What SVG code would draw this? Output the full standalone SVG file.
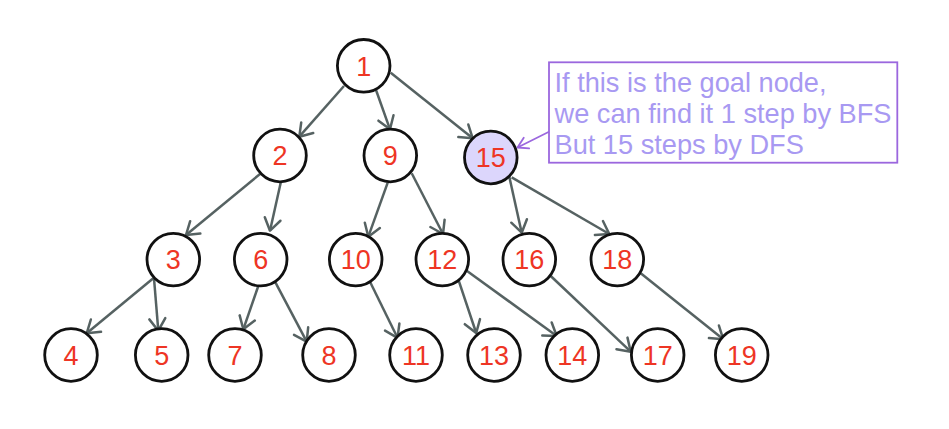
<svg xmlns="http://www.w3.org/2000/svg" width="949" height="429" viewBox="0 0 949 429">
<style>
.node circle{fill:#ffffff;stroke:#111111;stroke-width:2.8}
.node text{font-family:"Liberation Sans",Arial,sans-serif;font-size:27px;fill:#ee3524;text-anchor:middle}
#n15 circle{fill:#dcd6fc}
.edges line{stroke:#566262;stroke-width:2.5;marker-end:url(#arr)}
.note rect{fill:#ffffff;stroke:#9b67de;stroke-width:1.8}
.note text{font-family:"Liberation Sans",Arial,sans-serif;font-size:27.2px;fill:#a899f2}
</style>
<defs>
<marker id="arr" markerUnits="userSpaceOnUse" markerWidth="30" markerHeight="30" refX="0" refY="0" viewBox="-15 -15 30 30" orient="auto" overflow="visible">
<path d="M-12,-8 L0,0 L-12,8" fill="none" stroke="#566262" stroke-width="2.5" stroke-linecap="round" stroke-linejoin="round"/>
</marker>
<marker id="parr" markerUnits="userSpaceOnUse" markerWidth="24" markerHeight="24" refX="0" refY="0" viewBox="-12 -12 24 24" orient="auto" overflow="visible">
<path d="M-10,-6 L0,0 L-10,6" fill="none" stroke="#9b67de" stroke-width="1.8" stroke-linecap="round" stroke-linejoin="round"/>
</marker>
</defs>
<rect width="949" height="429" fill="#ffffff"/>
<g class="edges" id="connectors">
<line x1="344" y1="86" x2="299.3" y2="136.7"/>
<line x1="376" y1="90" x2="390" y2="129.3"/>
<line x1="390.7" y1="72.7" x2="472.7" y2="138.3"/>
<line x1="260" y1="174" x2="186" y2="235"/>
<line x1="280.7" y1="182.7" x2="270" y2="230.7"/>
<line x1="387.7" y1="182.7" x2="368.3" y2="236.7"/>
<line x1="411.7" y1="173.3" x2="443" y2="234"/>
<line x1="509.3" y1="176.7" x2="521.7" y2="232.7"/>
<line x1="511.7" y1="177.3" x2="609.3" y2="234"/>
<line x1="153.3" y1="278.3" x2="86.7" y2="333.3"/>
<line x1="154" y1="278.3" x2="158.3" y2="330.7"/>
<line x1="258.3" y1="286" x2="243.3" y2="329.3"/>
<line x1="275" y1="281.7" x2="306.7" y2="341.7"/>
<line x1="370" y1="281.7" x2="397.5" y2="337.8"/>
<line x1="458.3" y1="279.3" x2="476.2" y2="333"/>
<line x1="466.7" y1="270.7" x2="556.7" y2="336"/>
<line x1="550.7" y1="276" x2="630.7" y2="351.7"/>
<line x1="640.7" y1="273.3" x2="723.3" y2="339.3"/>
</g>
<g class="node" id="n1"><circle cx="363.7" cy="65.8" r="26.3"/><text x="363.7" y="75.5">1</text></g>
<g class="node" id="n2"><circle cx="280" cy="155.5" r="26.3"/><text x="280" y="165.2">2</text></g>
<g class="node" id="n9"><circle cx="390.3" cy="155.5" r="26.3"/><text x="390.3" y="165.2">9</text></g>
<g class="node" id="n15"><circle cx="490.8" cy="157.5" r="26.3"/><text x="490.8" y="167.2">15</text></g>
<g class="node" id="n3"><circle cx="173.3" cy="259.6" r="26.3"/><text x="173.3" y="269.3">3</text></g>
<g class="node" id="n6"><circle cx="260.7" cy="259.6" r="26.3"/><text x="260.7" y="269.3">6</text></g>
<g class="node" id="n10"><circle cx="355.7" cy="259.6" r="26.3"/><text x="355.7" y="269.3">10</text></g>
<g class="node" id="n12"><circle cx="442.3" cy="259.6" r="26.3"/><text x="442.3" y="269.3">12</text></g>
<g class="node" id="n16"><circle cx="529.3" cy="259.6" r="26.3"/><text x="529.3" y="269.3">16</text></g>
<g class="node" id="n18"><circle cx="617.3" cy="259.6" r="26.3"/><text x="617.3" y="269.3">18</text></g>
<g class="node" id="n4"><circle cx="71" cy="355" r="26.3"/><text x="71" y="364.7">4</text></g>
<g class="node" id="n5"><circle cx="161.7" cy="355" r="26.3"/><text x="161.7" y="364.7">5</text></g>
<g class="node" id="n7"><circle cx="235" cy="355" r="26.3"/><text x="235" y="364.7">7</text></g>
<g class="node" id="n8"><circle cx="329" cy="355" r="26.3"/><text x="329" y="364.7">8</text></g>
<g class="node" id="n11"><circle cx="416" cy="355" r="26.3"/><text x="416" y="364.7">11</text></g>
<g class="node" id="n13"><circle cx="494" cy="355" r="26.3"/><text x="494" y="364.7">13</text></g>
<g class="node" id="n14"><circle cx="572.3" cy="355" r="26.3"/><text x="572.3" y="364.7">14</text></g>
<g class="node" id="n17"><circle cx="657.7" cy="355" r="26.3"/><text x="657.7" y="364.7">17</text></g>
<g class="node" id="n19"><circle cx="741.7" cy="355" r="26.3"/><text x="741.7" y="364.7">19</text></g>
<g class="note" id="note">
<rect x="549" y="62.3" width="348.3" height="100.4"/>
<line x1="549" y1="131.7" x2="517.5" y2="147.5" stroke="#9b67de" stroke-width="1.8" marker-end="url(#parr)"/>
<text x="554.5" y="91.8">If this is the goal node,</text>
<text x="554.5" y="122.9">we can find it 1 step by BFS</text>
<text x="554.5" y="154">But 15 steps by DFS</text>
</g>
</svg>
